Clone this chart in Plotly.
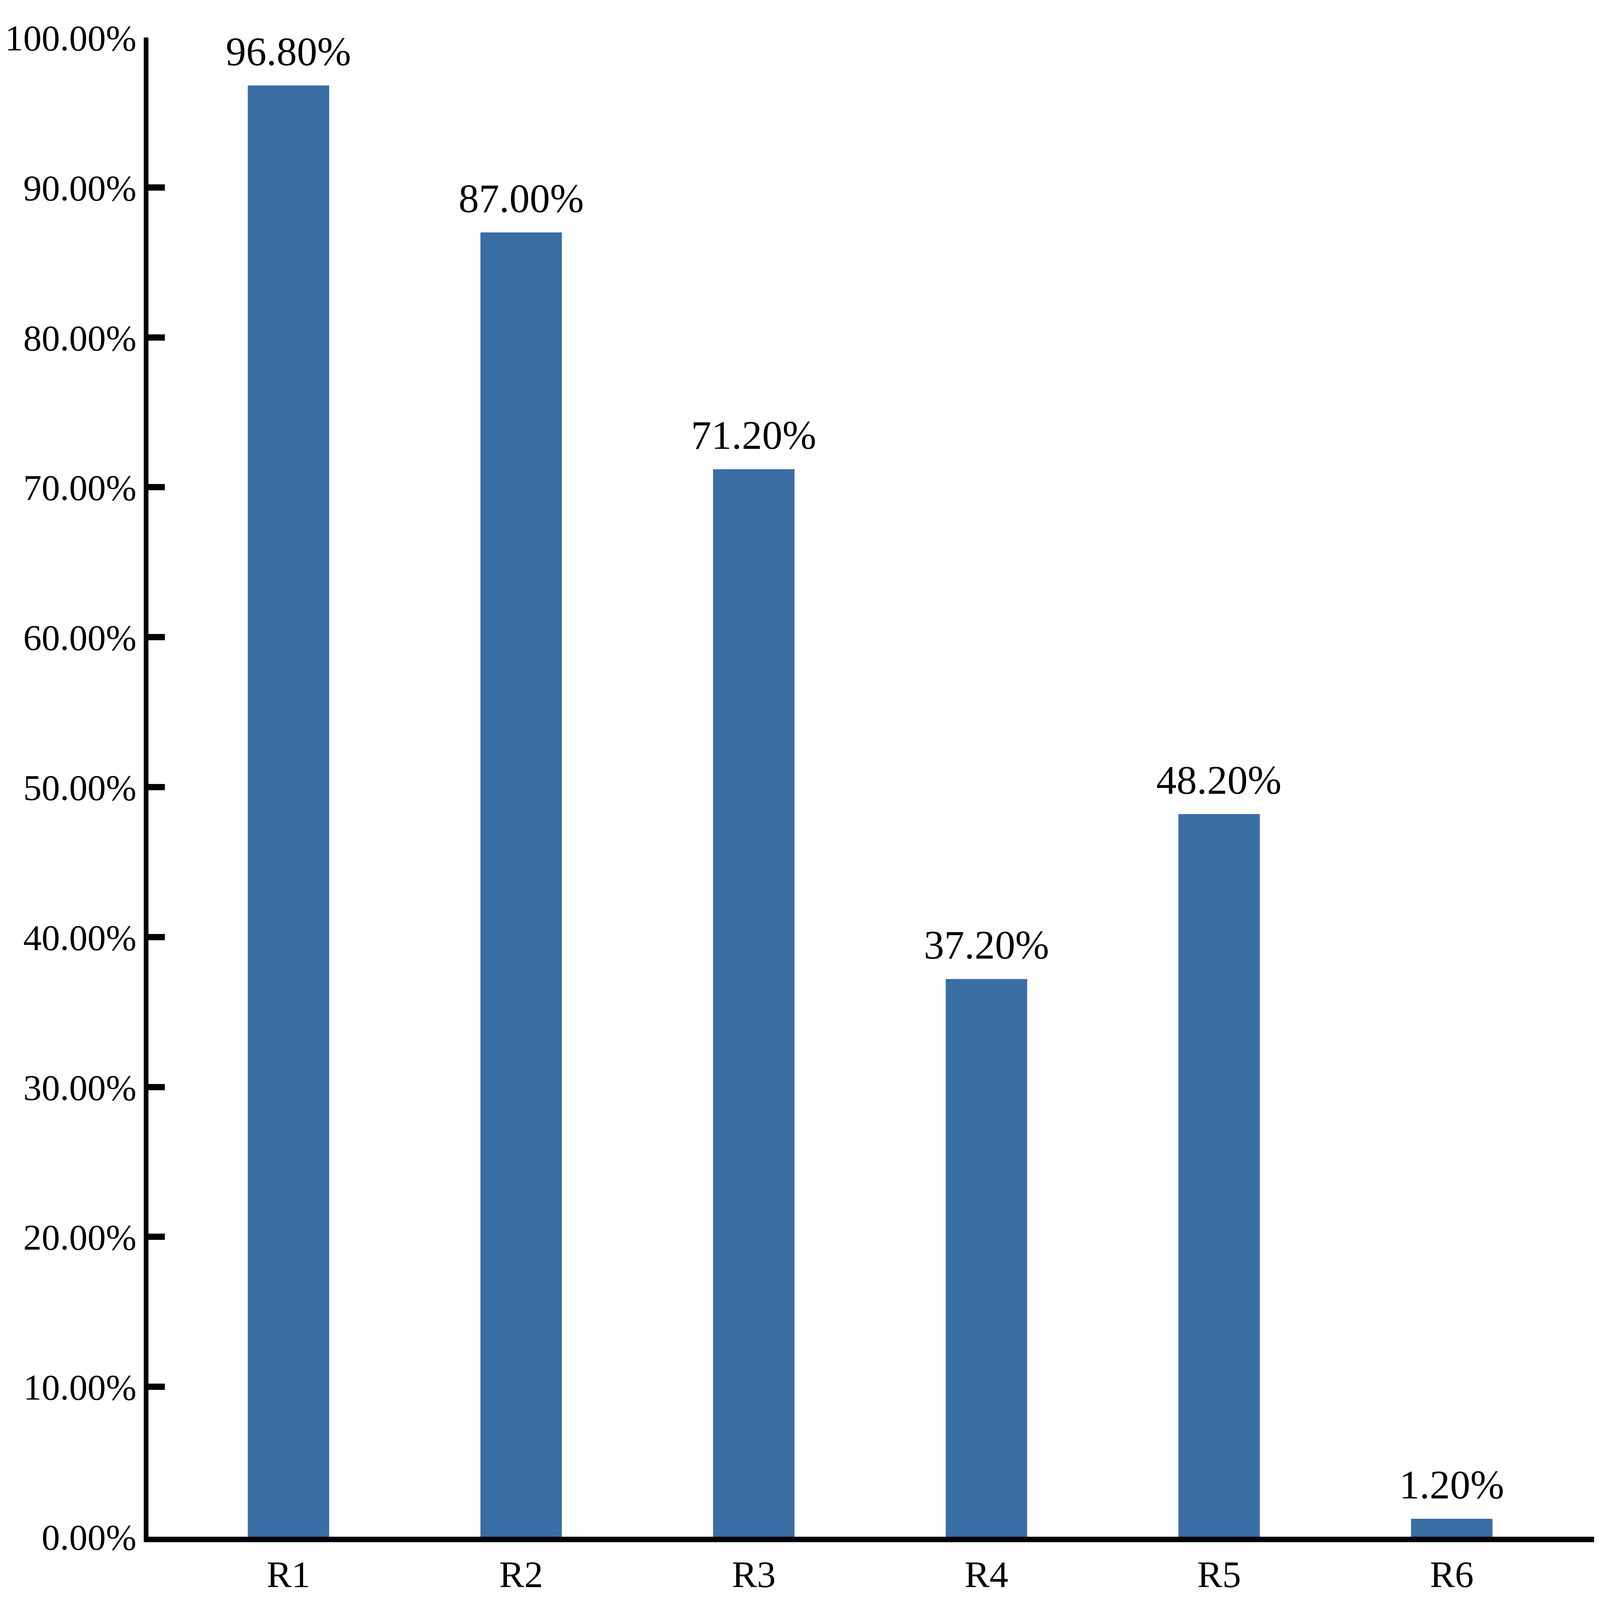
import plotly.graph_objects as go

# ---- data ----
categories = ["R1", "R2", "R3", "R4", "R5", "R6"]
values = [0.968, 0.870, 0.712, 0.372, 0.482, 0.012]
value_labels = ["96.80%", "87.00%", "71.20%", "37.20%", "48.20%", "1.20%"]
y_tick_vals = [0.0, 0.1, 0.2, 0.3, 0.4, 0.5, 0.6, 0.7, 0.8, 0.9, 1.0]
y_tick_text = ["0.00%", "10.00%", "20.00%", "30.00%", "40.00%", "50.00%",
               "60.00%", "70.00%", "80.00%", "90.00%", "100.00%"]

FONT = "Liberation Serif, Times New Roman, serif"
BAR_COLOR = "#3A6DA4"

# The page is rendered in a 4096x4096 viewport; sizes are the reference's
# (7021x5221) proportions scaled to that viewport.
SX = 4096 / 7021
SY = 4096 / 5221

fig = go.Figure()
fig.add_trace(go.Bar(
    x=categories,
    y=values,
    marker=dict(color=BAR_COLOR, line=dict(width=0)),
    hoverinfo="skip",
))

for c, v, t in zip(categories, values, value_labels):
    fig.add_annotation(
        x=c, y=v, text=t, showarrow=False,
        xref="x", yref="y", yanchor="bottom", yshift=28,
        font=dict(family=FONT, size=104, color="black"),
    )

fig.update_layout(
    autosize=True,
    margin=dict(l=round(645 * SX), r=round(26 * SX), t=round(122 * SY),
                b=round(189 * SY), pad=0),
    paper_bgcolor="white",
    plot_bgcolor="white",
    bargap=0.65,
    showlegend=False,
    font=dict(family=FONT, color="black"),
)

fig.update_xaxes(
    type="category",
    range=[-0.602, 5.612],
    showline=True, linecolor="black", linewidth=round(18 * SY),
    showgrid=False, zeroline=False,
    ticks="",
    tickfont=dict(family=FONT, size=96, color="black"),
)

fig.update_yaxes(
    range=[0, 1.0],
    tickvals=y_tick_vals,
    ticktext=y_tick_text,
    showline=True, linecolor="black", linewidth=round(20 * SX),
    showgrid=False, zeroline=False,
    ticks="inside", ticklen=round(72 * SX), tickwidth=round(20 * SY),
    tickcolor="black",
    tickfont=dict(family=FONT, size=94, color="black"),
)

post = """
document.body.style.margin = '0';
document.body.style.overflow = 'hidden';
var gd = document.getElementById('{plot_id}');
Plotly.Plots.resize(gd);
"""

fig.write_html("out.html", full_html=True, default_width="100vw",
               default_height="100vh",
               config={"responsive": True, "displayModeBar": False},
               post_script=post)
